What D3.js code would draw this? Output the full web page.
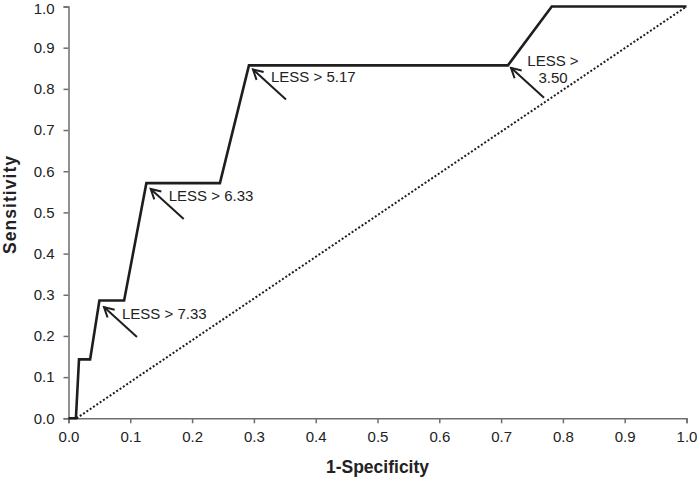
<!DOCTYPE html>
<html>
<head>
<meta charset="utf-8">
<script src="https://cdn.jsdelivr.net/npm/d3@7"></script>
<style>
  html, body { margin: 0; padding: 0; background: #fff; }
  svg { display: block; font-family: Arial, "Liberation Sans", Helvetica, sans-serif; }
</style>
</head>
<body>
<svg id="chart" width="697" height="478"></svg>
<script>
// ---- data ----
const fpr  = [0, 0.012, 0.017, 0.035, 0.050, 0.090, 0.126, 0.245, 0.292, 0.711, 0.782, 1.0];
const sens = [0, 0, 0.143, 0.143, 0.286, 0.286, 0.571, 0.571, 0.857, 0.857, 1.0, 1.0];
const refX = [0.013, 1.0];
const refY = [0, 1.0];
const xTicks = [0, 0.1, 0.2, 0.3, 0.4, 0.5, 0.6, 0.7, 0.8, 0.9, 1.0];
const yTicks = [0, 0.1, 0.2, 0.3, 0.4, 0.5, 0.6, 0.7, 0.8, 0.9, 1.0];
const annLabels = [["LESS > 7.33"], ["LESS > 6.33"], ["LESS > 5.17"], ["LESS >", "3.50"]];
const annFpr  = [0.0574, 0.133, 0.2985, 0.716];
const annSens = [0.270, 0.557, 0.847, 0.851];
const xTitle = "1-Specificity";
const yTitle = "Sensitivity";

// ---- layout ----
const svg = d3.select("#chart");
const x = d3.scaleLinear().domain([0, 1]).range([68.5, 686.5]);
const y = d3.scaleLinear().domain([0, 1]).range([418.3, 6.5]);
const axisColor = "#6e6e6e";
const ink = "#1e1e1e";
const fs = "15px";

// axes
const xAxis = svg.append("g").attr("transform", `translate(0,${y(0)})`)
  .call(d3.axisBottom(x).tickValues(xTicks).tickFormat(d3.format(".1f")).tickSizeOuter(0).tickSize(5).tickPadding(8));
const yAxis = svg.append("g").attr("transform", `translate(${x(0)},0)`)
  .call(d3.axisLeft(y).tickValues(yTicks).tickFormat(d3.format(".1f")).tickSizeOuter(0).tickSize(5).tickPadding(9));
[xAxis, yAxis].forEach(g => {
  g.select(".domain").attr("stroke", axisColor).attr("stroke-width", 1.5);
  g.selectAll(".tick line").attr("stroke", axisColor).attr("stroke-width", 1.5);
  g.selectAll(".tick text").attr("fill", "#222").attr("font-size", fs)
    .attr("font-family", "Arial, 'Liberation Sans', sans-serif");
});
// keep the top label inside the frame
yAxis.selectAll(".tick text").filter(d => d === 1).attr("y", 2.5);

// reference diagonal
svg.append("line")
  .attr("x1", x(refX[0])).attr("y1", y(refY[0]))
  .attr("x2", x(refX[1])).attr("y2", y(refY[1]))
  .attr("stroke", ink).attr("stroke-width", 2).attr("stroke-dasharray", "2,2");

// ROC curve
const pts = fpr.map((f, i) => [f, sens[i]]);
svg.append("path").datum(pts)
  .attr("d", d3.line().x(d => x(d[0])).y(d => y(d[1])))
  .attr("fill", "none").attr("stroke", ink).attr("stroke-width", 2.6)
  .attr("stroke-linejoin", "miter");

// annotations
annLabels.forEach((lines, i) => {
  const tx = x(annFpr[i]), ty = y(annSens[i]);
  const ex = tx + 33, ey = ty + 30;
  svg.append("line").attr("x1", ex).attr("y1", ey).attr("x2", tx).attr("y2", ty)
    .attr("stroke", ink).attr("stroke-width", 2);
  const ang = Math.atan2(ty - ey, tx - ex);
  const L = 11, spread = 0.5;
  const p1 = [tx - L * Math.cos(ang - spread), ty - L * Math.sin(ang - spread)];
  const p2 = [tx - L * Math.cos(ang + spread), ty - L * Math.sin(ang + spread)];
  svg.append("path").attr("d", `M${p1[0]},${p1[1]}L${tx},${ty}L${p2[0]},${p2[1]}`)
    .attr("fill", "none").attr("stroke", ink).attr("stroke-width", 2);
  if (lines.length === 1) {
    svg.append("text").attr("x", tx + 18).attr("y", ty + 7)
      .attr("dy", "0.35em").attr("font-size", fs).attr("fill", "#222")
      .text(lines[0]);
  } else {
    lines.forEach((t, j) => {
      svg.append("text").attr("x", tx + 42).attr("y", ty - 7 + j * 17)
        .attr("dy", "0.35em").attr("text-anchor", "middle")
        .attr("font-size", fs).attr("fill", "#222").text(t);
    });
  }
});

// axis titles
svg.append("text").attr("x", (x(0) + x(1)) / 2).attr("y", 473)
  .attr("text-anchor", "middle").attr("font-weight", "bold")
  .attr("font-size", "17.5px").attr("fill", "#222").text(xTitle);
svg.append("text").attr("transform", `translate(16,205) rotate(-90)`)
  .attr("text-anchor", "middle").attr("font-weight", "bold")
  .attr("font-size", "17.5px").attr("fill", "#222")
  .attr("textLength", 98).attr("lengthAdjust", "spacing").text(yTitle);
</script>
</body>
</html>
